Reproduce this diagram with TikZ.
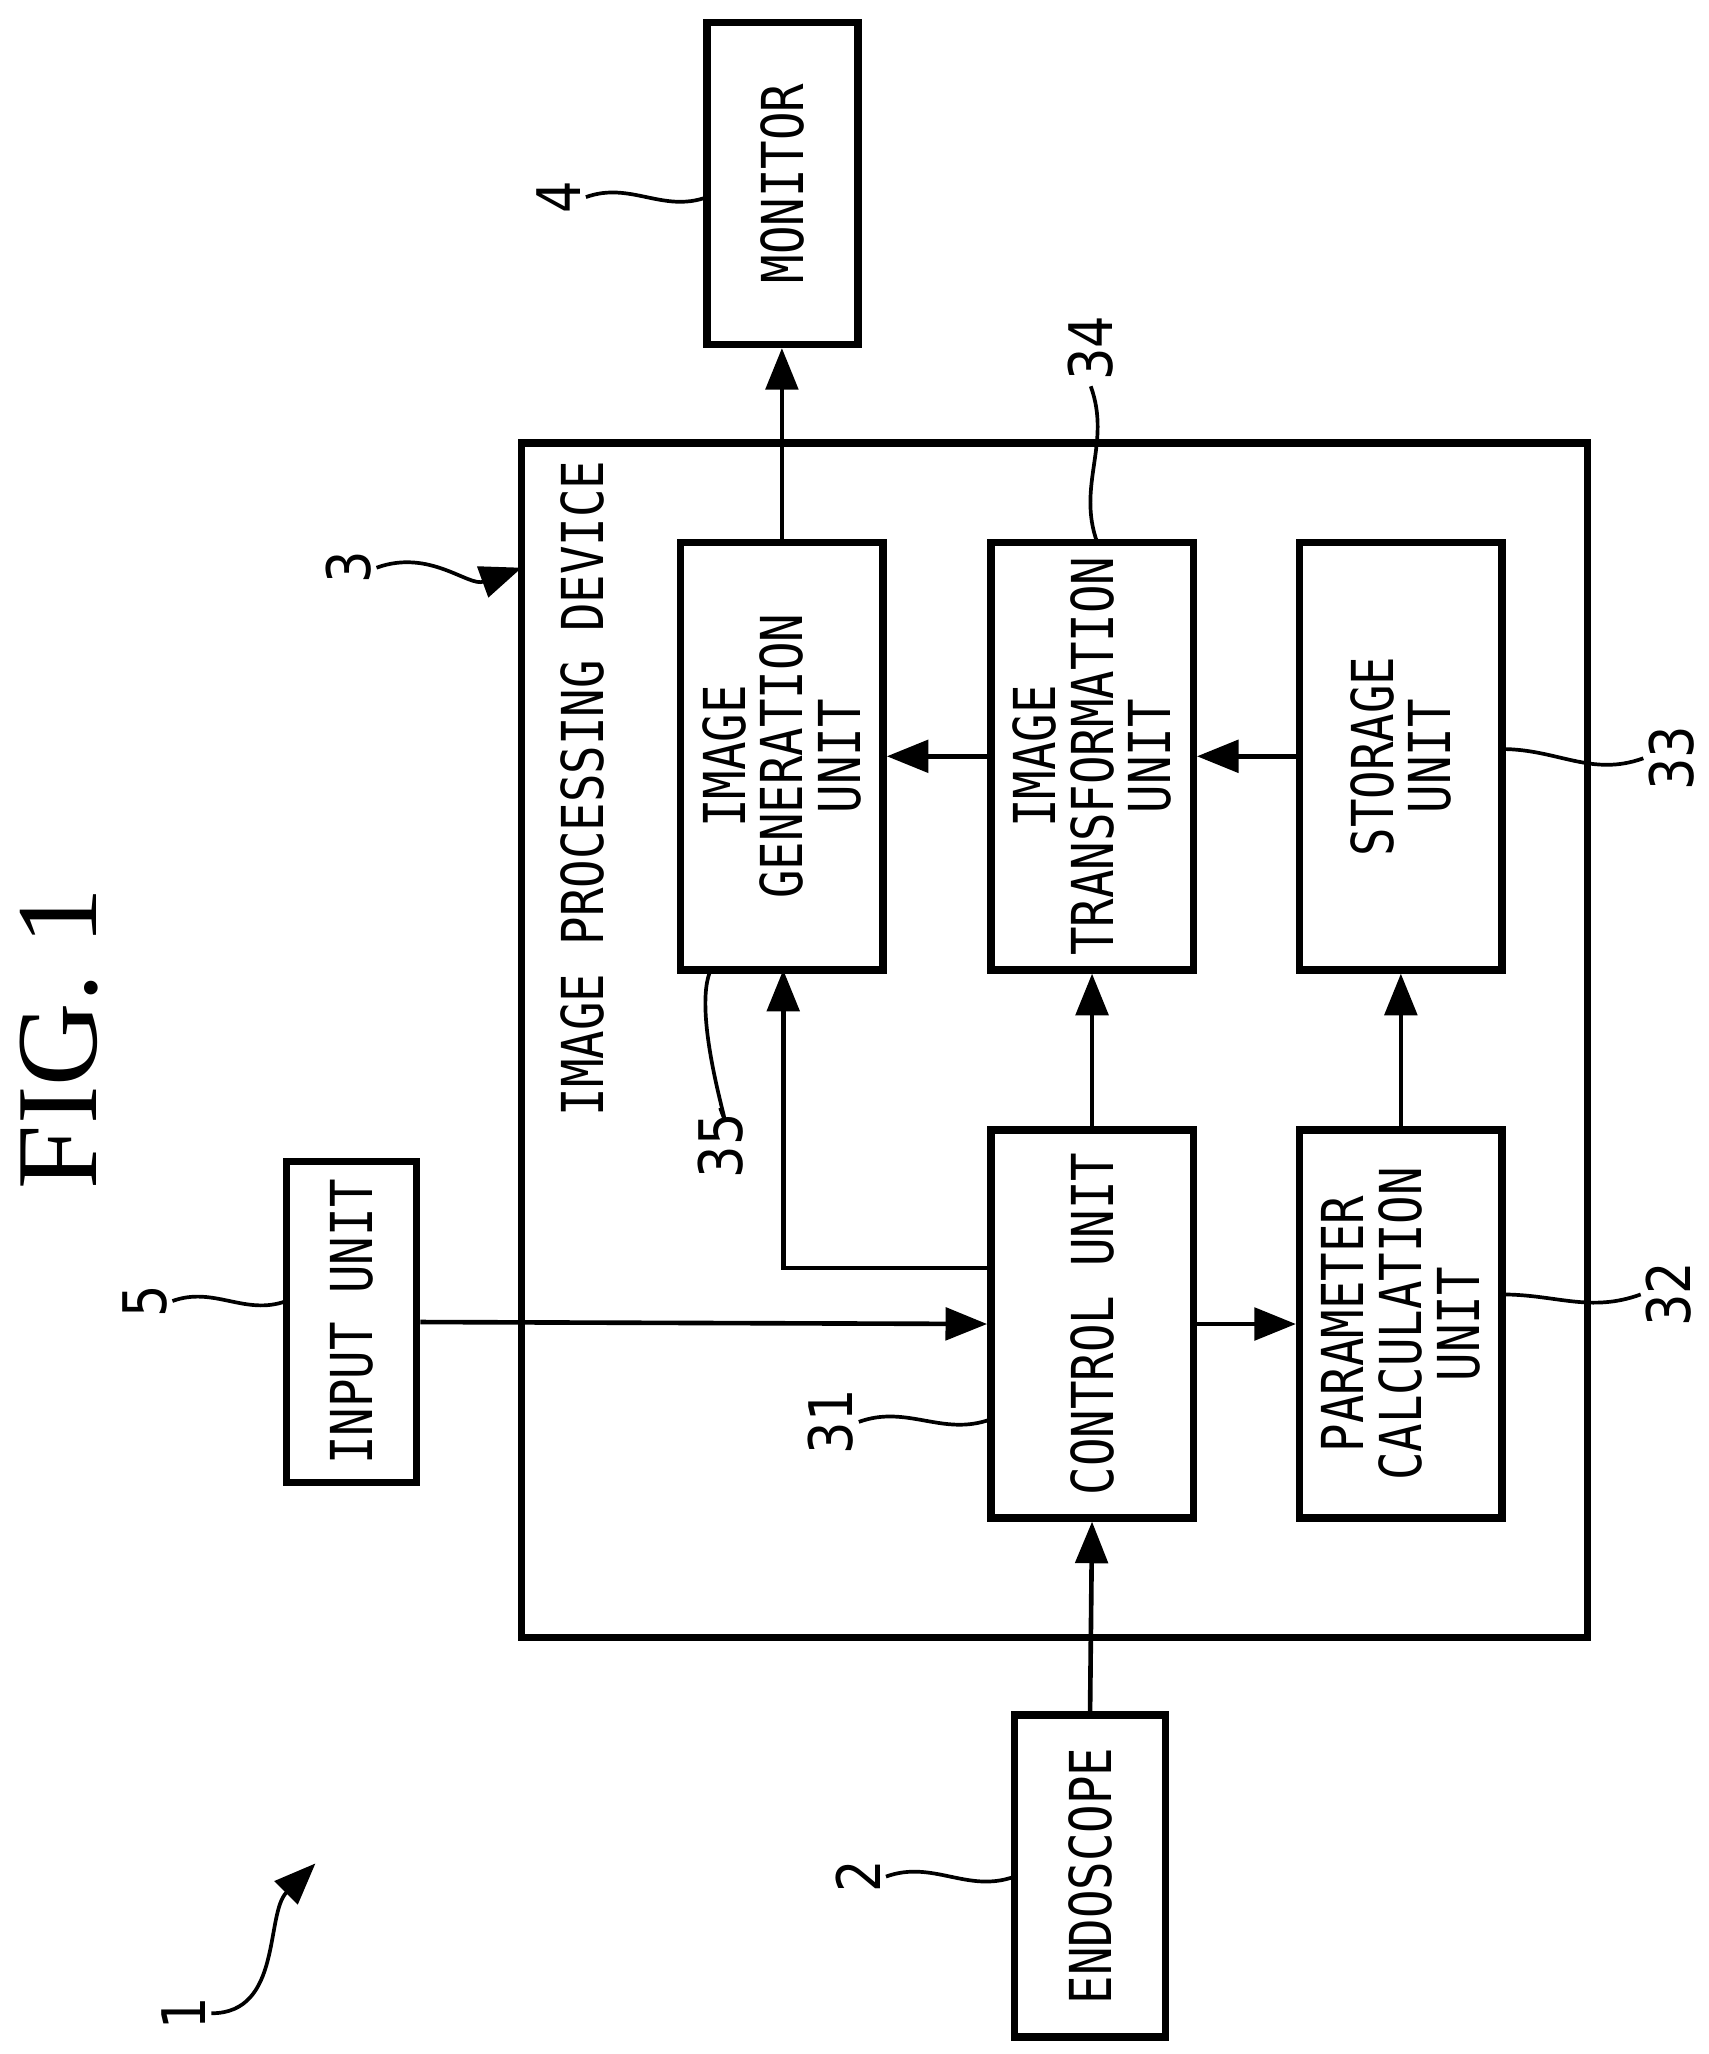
\documentclass[tikz,border=0pt]{standalone}
\usepackage{fontspec}
\newfontfamily\dmono[FakeStretch=0.82]{DejaVu Sans Mono}
\newfontfamily\dsans[FakeStretch=0.85]{DejaVu Sans}
\setmainfont{Liberation Serif}
\usetikzlibrary{arrows.meta}
\begin{document}
\begin{tikzpicture}[x=0.01cm,y=-0.01cm,
  box/.style={draw,line width=1.6pt,inner sep=0pt},
  txt/.style={rotate=90,font=\dmono\fontsize{12.5}{12.5}\selectfont,align=center},
  num/.style={rotate=90,font=\dsans\fontsize{13}{15}\selectfont,inner sep=1pt},
  arr/.style={line width=1pt,-{Triangle[length=9pt,width=7pt]}},
  sq/.style={line width=0.8pt}]
\useasboundingbox (0,0) rectangle (1300,1563);
\node[rotate=90,font=\fontsize{25}{27}\selectfont] (fig) at (45,790) {FIG. 1};
% boxes
\draw[box] (397,337) rectangle (1208,1246);
\node[txt] (ipd) at (443,600) {IMAGE PROCESSING DEVICE};
\node[box,minimum width=1.15cm,minimum height=2.45cm] (mon) at (595.5,139.5) {};
\node[txt] at (mon) {MONITOR};
\node[box,minimum width=1.54cm,minimum height=3.25cm] (gen) at (595,575.5) {};
\node[txt] at (gen) {IMAGE\\GENERATION\\UNIT};
\node[box,minimum width=1.54cm,minimum height=3.25cm] (tra) at (831,575.5) {};
\node[txt] at (tra) {IMAGE\\TRANSFORMATION\\UNIT};
\node[box,minimum width=1.54cm,minimum height=3.25cm] (sto) at (1066,575.5) {};
\node[txt] at (sto) {STORAGE\\UNIT};
\node[box,minimum width=1.54cm,minimum height=2.95cm] (ctl) at (831,1007.5) {};
\node[txt] at (ctl) {CONTROL UNIT};
\node[box,minimum width=1.54cm,minimum height=2.95cm] (par) at (1066,1007.5) {};
\node[txt] at (par) {PARAMETER\\CALCULATION\\UNIT};
\node[box,minimum width=0.99cm,minimum height=2.44cm] (inp) at (267.5,1006) {};
\node[txt] at (inp) {INPUT UNIT};
\node[box,minimum width=1.15cm,minimum height=2.45cm] (end) at (829.5,1427.5) {};
\node[txt] at (end) {ENDOSCOPE};
% arrows
\draw[arr] (gen.north) -- (gen.north |- mon.south);
\draw[arr] (tra.west) -- (gen.east);
\draw[arr] (sto.west) -- (tra.east);
\draw[arr] (ctl.north) -- (tra.south);
\draw[arr] (par.north) -- (sto.south);
\coordinate (c1) at (ctl.west |- 0,965);
\draw[arr] (c1) -- (596,965) -- (596,738);
\draw[arr] (inp.east) -- (ctl.west);
\draw[arr] (ctl.east) -- (par.west);
\draw[arr] (end.north) -- (ctl.south);
% labels
\node[num] (n4) at (425,150) {4};
\draw[sq] (n4.south) to[out=20,in=200] (538,150);
\node[num] (n3) at (265,432) {3};
\coordinate (p3) at (397,432);
\draw[sq,-{Triangle[length=9pt,width=7pt]}] (n3.south) to[out=20,in=200] (p3);
\node[num] (n34) at (830,265) {34};
\draw[sq] (n34.west) to[out=-70,in=110] (835,413);
\node[num] (n35) at (548,872) {35};
\draw[sq] (n35.east) to[out=-70,in=-110] (540,740);
\node[num] (n33) at (1272,577) {33};
\draw[sq] (1143,570) to[out=0,in=200] (n33.north);
\node[num] (n32) at (1270,985) {32};
\draw[sq] (1143,985) to[out=0,in=200] (n32.north);
\node[num] (n31) at (632,1082) {31};
\draw[sq] (n31.south) to[out=20,in=200] (754,1080);
\node[num] (n5) at (110,990) {5};
\draw[sq] (n5.south) to[out=20,in=200] (218,990);
\node[num] (n2) at (653,1428) {2};
\draw[sq] (n2.south) to[out=20,in=200] (772,1428);
\node[num] (n1) at (140,1532) {1};
\draw[sq,-{Triangle[length=9pt,width=7pt]}] (n1.south) to[out=0,in=225] (240,1418);
\end{tikzpicture}
\end{document}
